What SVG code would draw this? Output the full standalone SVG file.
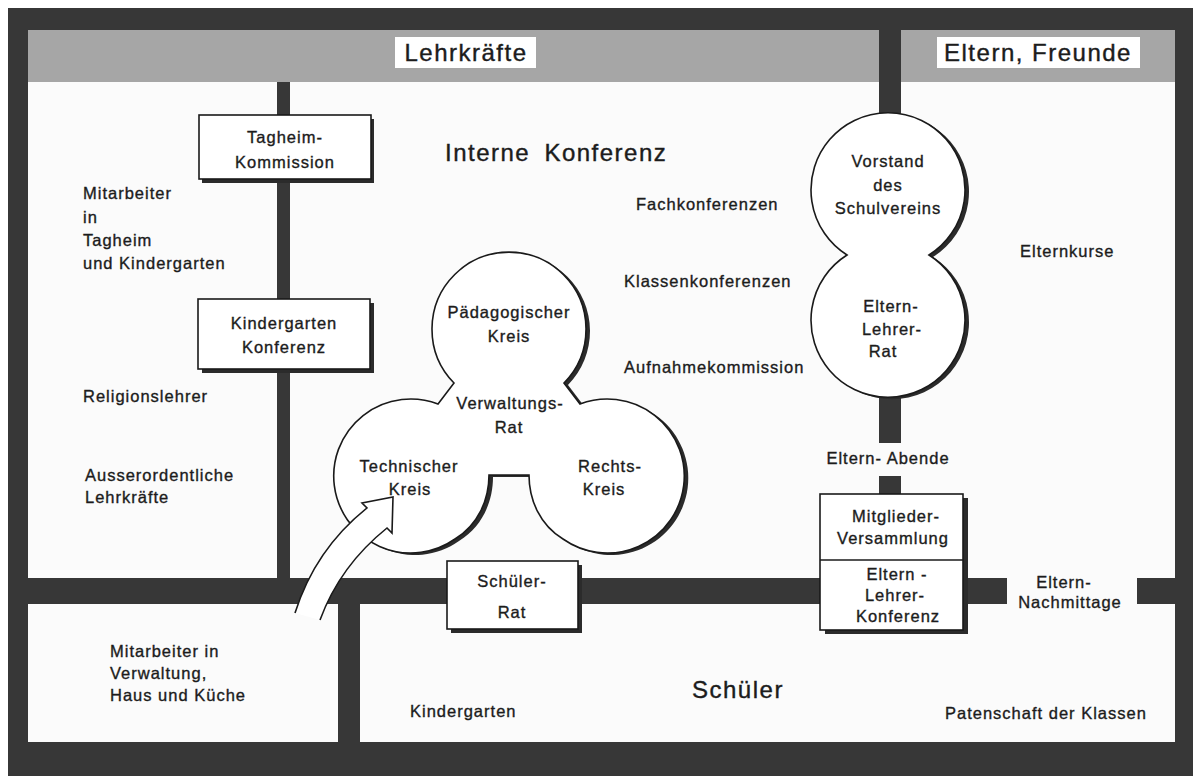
<svg xmlns="http://www.w3.org/2000/svg" width="1193" height="776" viewBox="0 0 1193 776">
<defs>
<style>
.t{font-family:"Liberation Sans",Arial,sans-serif;font-size:16.5px;letter-spacing:1px;fill:#1c1c1c;stroke:#1c1c1c;stroke-width:0.35px}
.c{text-anchor:middle}
.big{font-size:24px;letter-spacing:1.5px;stroke-width:0.4px}
.dark{fill:#373737}
.gray{fill:#a6a6a6}
.panel{fill:#fbfbfb}
.box{fill:#ffffff;stroke:#1a1a1a;stroke-width:1.6}
.shadow{fill:#2b2b2b}
.shape{fill:#ffffff;stroke:#1a1a1a;stroke-width:1.6}
</style>
</defs>
<rect x="0" y="0" width="1193" height="776" fill="#ffffff"/>
<g id="frame">
<rect class="dark" x="8" y="8" width="1185" height="768"/>
<rect class="gray" x="28" y="30" width="851" height="52"/>
<rect class="gray" x="901" y="30" width="274" height="52"/>
<rect class="panel" x="28" y="82" width="249" height="496"/>
<rect class="panel" x="290" y="82" width="885" height="496"/>
<rect class="panel" x="28" y="604" width="310" height="138"/>
<rect class="panel" x="360" y="604" width="815" height="138"/>
<rect class="panel" x="1007" y="577" width="130" height="28"/>
</g>
<g id="header-lehrkraefte">
<rect x="395" y="37" width="141" height="31" fill="#ffffff"/>
<text class="t big c" x="466" y="61">Lehrkräfte</text>
</g>
<g id="header-eltern">
<rect x="937" y="37" width="203" height="31" fill="#ffffff"/>
<text class="t big c" x="1038" y="61">Eltern, Freunde</text>
</g>
<g id="connectors">
<rect class="dark" x="879" y="80" width="22" height="50"/>
<rect class="dark" x="879" y="390" width="22" height="53"/>
<rect class="dark" x="879" y="476" width="22" height="19"/>
</g>
<g id="tagheim-kommission">
<rect class="shadow" x="202" y="119" width="172" height="64"/>
<rect class="box" x="199" y="115" width="172" height="64"/>
<text class="t c" x="285" y="143">Tagheim-</text>
<text class="t c" x="285" y="168">Kommission</text>
</g>
<g id="kindergarten-konferenz">
<rect class="shadow" x="202" y="303" width="172" height="70"/>
<rect class="box" x="198" y="299" width="172" height="70"/>
<text class="t c" x="284" y="329">Kindergarten</text>
<text class="t c" x="284" y="353">Konferenz</text>
</g>
<g id="schueler-rat">
<rect class="shadow" x="451" y="565" width="131" height="68"/>
<rect class="box" x="447" y="561" width="131" height="68"/>
<text class="t c" x="512" y="587">Schüler-</text>
<text class="t c" x="512" y="618">Rat</text>
</g>
<g id="mitglieder-versammlung">
<rect class="shadow" x="825" y="498" width="143" height="136"/>
<rect class="box" x="820" y="494" width="143" height="136"/>
<line x1="820" y1="560" x2="963" y2="560" stroke="#1a1a1a" stroke-width="1.6"/>
<text class="t c" x="896" y="522">Mitglieder-</text>
<text class="t c" x="893" y="544">Versammlung</text>
<text class="t c" x="897" y="580">Eltern -</text>
<text class="t c" x="895" y="601">Lehrer-</text>
<text class="t c" x="898" y="622">Konferenz</text>
</g>
<g id="verwaltungsrat">
<path class="shadow" transform="translate(4,2)" d="M 454,383 L 438,404 A 77 77 0 1 0 455,539 C 478,525 489,500 489,475 L 529,475 C 529,500 540,525 563,539 A 77 77 0 1 0 580,404 L 564,383 A 77 77 0 1 0 454,383 Z"/>
<path class="shape" d="M 454,383 L 438,404 A 77 77 0 1 0 455,539 C 478,525 489,500 489,475 L 529,475 C 529,500 540,525 563,539 A 77 77 0 1 0 580,404 L 564,383 A 77 77 0 1 0 454,383 Z"/>
<text class="t c" x="509" y="318">Pädagogischer</text>
<text class="t c" x="509" y="342">Kreis</text>
<text class="t c" x="510" y="409">Verwaltungs-</text>
<text class="t c" x="509" y="433">Rat</text>
<text class="t c" x="409" y="472">Technischer</text>
<text class="t c" x="410" y="495">Kreis</text>
<text class="t c" x="610" y="472">Rechts-</text>
<text class="t c" x="604" y="495">Kreis</text>
</g>
<g id="vorstand">
<path class="shadow" transform="translate(4,2)" d="M 847,255 A 77 77 0 1 1 929,255 A 77 77 0 1 1 847,255 Z"/>
<path class="shape" d="M 847,255 A 77 77 0 1 1 929,255 A 77 77 0 1 1 847,255 Z"/>
<text class="t c" x="888" y="167">Vorstand</text>
<text class="t c" x="888" y="191">des</text>
<text class="t c" x="888" y="214">Schulvereins</text>
<text class="t c" x="891" y="312">Eltern-</text>
<text class="t c" x="892" y="335">Lehrer-</text>
<text class="t c" x="883" y="357">Rat</text>
</g>
<g id="arrow">
<path d="M 295,613 C 308,572 332,536 367,508 L 362,503 L 393,497 L 392,533 L 387,528 C 357,552 334,582 320,620" fill="#ffffff" stroke="#1a1a1a" stroke-width="1.6" stroke-linejoin="miter"/>
</g>
<g id="labels">
<text class="t big" x="445" y="161" word-spacing="6">Interne Konferenz</text>
<text class="t" x="83" y="199">Mitarbeiter</text>
<text class="t" x="83" y="223">in</text>
<text class="t" x="83" y="246">Tagheim</text>
<text class="t" x="83" y="269">und Kindergarten</text>
<text class="t" x="83" y="402">Religionslehrer</text>
<text class="t" x="85" y="481">Ausserordentliche</text>
<text class="t" x="85" y="503">Lehrkräfte</text>
<text class="t" x="636" y="210">Fachkonferenzen</text>
<text class="t" x="624" y="287">Klassenkonferenzen</text>
<text class="t" x="624" y="373">Aufnahmekommission</text>
<text class="t" x="1020" y="257">Elternkurse</text>
<text class="t c" x="888" y="464">Eltern- Abende</text>
<text class="t c" x="1064" y="588">Eltern-</text>
<text class="t c" x="1070" y="608">Nachmittage</text>
<text class="t" x="110" y="657">Mitarbeiter in</text>
<text class="t" x="110" y="679">Verwaltung,</text>
<text class="t" x="110" y="701">Haus und Küche</text>
<text class="t big" x="692" y="698">Schüler</text>
<text class="t" x="410" y="717">Kindergarten</text>
<text class="t" x="945" y="719">Patenschaft der Klassen</text>
</g>
</svg>
